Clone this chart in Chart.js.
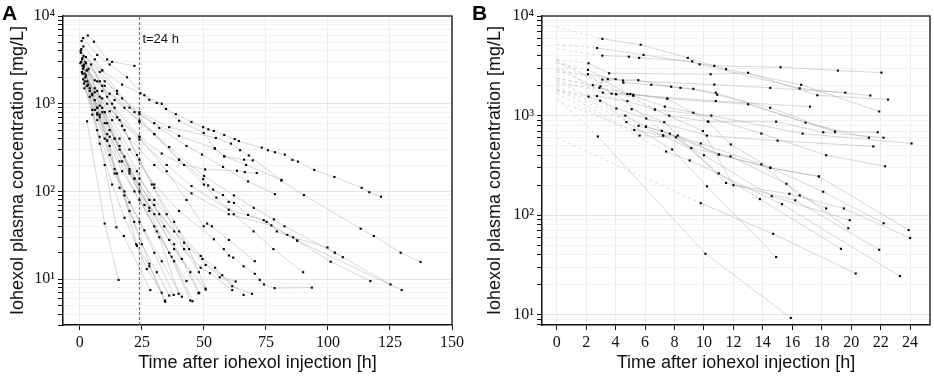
<!DOCTYPE html>
<html>
<head>
<meta charset="utf-8">
<script src="https://cdn.jsdelivr.net/npm/chart.js@4.4.0/dist/chart.umd.min.js"></script>
<style>
  body { margin:0; background:#fff; width:934px; height:376px; position:relative; overflow:hidden; }
  .panel { position:absolute; top:0; width:467px; height:376px; }
  .lab { position:absolute; top:1px; font:bold 21px "Liberation Sans", Arial, sans-serif; color:#000; }
</style>
</head>
<body>
<div class="panel" style="left:0"><canvas id="chartA" width="467" height="376"></canvas></div>
<div class="panel" style="left:467px"><canvas id="chartB" width="467" height="376"></canvas></div>
<div class="lab" style="left:2px">A</div>
<div class="lab" style="left:472px">B</div>
<script>
// panel A: [time h, concentration mg/L] per patient
const A01 = [[1.5,3500],[9,2400],[17,1650],[24.4,1310],[28,1110],[31,1020],[34.7,870],[38.7,760],[45,620],[49.7,540],[51.8,510],[54,490],[58.2,440],[62.4,395],[64.1,375],[73.3,316],[75.8,295],[78.6,280],[82.6,263],[85.7,229],[87.9,219],[94.5,176],[102.6,146],[113.6,110],[116.7,98],[121.4,87]];
const A02 = [[2.5,2900],[10,1800],[17,1150],[24,800],[36,540],[54.8,407],[60.9,351],[64.6,295],[68.1,257],[81.2,133],[90.3,91],[113.2,37.6],[118.5,31],[129.3,20],[137.3,15.7]];
const A03 = [[0.7,5200],[3.2,6000],[5.7,5100],[11,3200],[13,3000],[22,2700]];
const A04 = [[1.3,5600],[7,3600],[12,2800],[19,2000],[26,1250],[33,1000],[40,640],[49.9,465],[54.4,309],[58.2,251],[67,200],[81.3,135]];
const A05 = [[0.3,4000],[8,2300],[15,1300],[24,760],[32,530],[43,330],[49.2,263],[57.7,190],[67.8,130],[78.6,93]];
const A06 = [[0.9,3200],[10,1600],[18,900],[24,620],[30,450],[40,230],[49.7,138],[51.7,117],[53.7,105],[57.7,91],[60,76],[62.1,74],[67.8,54],[75.3,45],[79.4,35],[86,30],[99.8,23],[102.8,20],[106,17.8]];
const A07 = [[1.7,2800],[9,1400],[14,900],[24,420],[35,170],[43,80],[49.9,40],[51.3,43],[53.2,40],[60.1,28],[70.5,16]];
const A08 = [[2.7,2400],[8,1200],[13,650],[20,300],[30,120],[40,60],[54,28.5],[58,22],[60.1,18.6],[61.8,17.6],[66,14],[70.5,11.5],[72.5,9.8],[74.2,8.7],[78.5,7.9],[93.5,8.0]];
const A09 = [[2.2,2000],[11,1000],[16,650],[24,390],[35,200],[45,115],[60,62],[74.1,47],[83.6,32],[87.6,27.5],[101.1,15.8],[117.1,9.5]];
const A10 = [[1.5,2600],[7,1800],[14,1100],[24,640],[36,320],[50,150],[62.1,90],[70.1,65],[78.2,48],[82.5,40],[102.8,20],[125.2,8.7]];
const A11 = [[3,1800],[12,820],[20,400],[30,200],[45,95],[60,55],[77.2,41],[87.6,27.5],[129.7,7.5]];
const A12 = [[1,2200],[6,1100],[11,600],[18,250],[24,140],[30,80],[40,35],[48.7,18.4],[54.5,13.5],[61.4,8.3],[69.4,6.8]];
const A13 = [[2,1800],[7,900],[12,500],[20,180],[28,80],[38,35],[49.4,17],[56.4,10.5],[62.8,9.4]];
const A14 = [[0.5,3000],[9,800],[16,300],[24,120],[32,55],[42,26],[50.7,14.5],[57.4,11.1],[66,6.6]];
const A15 = [[1.2,2500],[5,1300],[10,600],[17,220],[24,100],[34,40],[48.7,13.5],[52.4,11.7],[61.4,7.5]];
const A16 = [[2.5,2100],[8,950],[14,400],[22,140],[30,55],[38,22],[44.5,12],[48.1,7]];
const A17 = [[1.8,1500],[6,850],[12,420],[20,160],[28,65],[36,28],[41.1,17],[50.7,7.6]];
const A18 = [[2.9,630],[10,43],[15.6,9.8]];
const A19 = [[0.4,3800],[3,1600],[7,500],[10,200],[14.7,39],[17.7,31],[28.4,7.5]];
const A20 = [[1,3300],[4,1500],[7,750],[10,400],[14,180],[18,90],[22.7,25],[28,14],[34.3,5.7]];
const A21 = [[1.5,2700],[5,1250],[8,700],[12,330],[16,110],[21.9,45],[28,15],[34.4,5.5]];
const A22 = [[0.8,2300],[4,1200],[7,650],[12,260],[18,100],[24,45],[30,20],[37.8,6.6]];
const A23 = [[2.2,3000],[6,1500],[9,900],[14,400],[20,170],[26,70],[32,30],[39.8,6.8]];
const A24 = [[1.3,1900],[5,850],[8,420],[14,160],[20,75],[26,36],[33,16],[41.1,6.3]];
const A25 = [[3.5,2500],[7,1400],[10,800],[16,330],[22,140],[28,60],[36,20],[44.5,5.7]];
const A26 = [[2.8,1600],[7,780],[11,380],[17,170],[24,80],[31,35],[38,16],[45.4,5.6]];
const A27 = [[1.9,2200],[6,1350],[10,800],[16,400],[23,170],[30,70],[38,25],[47.8,6.9]];
const A28 = [[4.5,2800],[9,1600],[13,1000],[18,500],[24,230],[30,110],[38,45],[44,22],[50.7,7.8]];
const A29 = [[1.1,2700],[6,1850],[12,1300],[20,900],[30,600],[40,430],[54.4,309],[58.2,251],[66.2,230],[69.7,226]];
const A30 = [[3.3,1650],[9,1150],[15,700],[24,420],[33,270],[42,200],[50.5,178],[63.3,172],[66.5,166],[71.3,162]];
const A31 = [[0.6,4200],[3,2400],[7,900],[11,380],[15,160],[20,60],[25,25],[31,12],[36,6.5]];
const A32 = [[1.6,1700],[5,750],[8,350],[13,120],[18,50],[23,24],[27,13],[33,7]];
const A33 = [[2.4,3400],[8,1800],[11,1200],[17,560],[23,260],[29,120],[35,55],[42,22],[48,12]];
const A34 = [[0.2,2900],[4,1400],[8,750],[11,450],[16,220],[22,100],[30,40],[37,18],[43,9.5]];
const A35 = [[1.4,4500],[6,3200],[9,2400],[15,1400],[22,800],[30,450],[40,230],[50,120],[55,85],[62,55],[70,35],[78,22],[90,12]];

// panel B: first 24 h only
const B01 = [[3.1,5900],[5.7,5150],[8.9,3800],[11.5,2920],[16.6,2040],[21.9,1100]];
const B02 = [[2.75,4770],[5.9,4070],[10.7,3160],[15.2,3060],[19.1,2830],[22.05,2700]];
const B03 = [[3.1,4000],[4.9,3900],[5.6,3800],[9.2,3510],[9.7,3270],[16.5,1880],[21.3,1590]];
const B04 = [[2.16,3350],[3.56,2660],[10.45,2600],[13,2690],[17.7,1600],[22.5,1450]];
const B05 = [[2.12,2880],[3.47,2320],[5.54,2270],[7.77,1950],[9.28,1860],[10.9,1620],[14.5,1200],[18.9,690],[21.8,680]];
const B06 = [[2.45,2020],[4,2320],[4.53,2140],[6.42,2040],[8.4,1900],[10.8,1700],[16.9,850],[21.2,600]];
const B07 = [[2.97,1970],[3.72,1660],[5,1650],[7.52,1480],[10.3,870],[14.9,870],[18.1,680],[22.2,600]];
const B08 = [[3.13,1700],[4.03,1640],[5.2,1580],[7.34,1230],[9.28,1070],[13.9,660],[18.3,400],[22.3,310]];
const B09 = [[2.73,1570],[4.8,1400],[6.67,1150],[10.5,1000],[16.7,660],[24.1,525]];
const B10 = [[2.16,1550],[2.95,1410],[4.05,1180],[6.08,935],[10.2,630],[15,560],[21.5,490]];
const B11 = [[4.66,1000],[6.06,775],[7.68,660],[9.14,473],[11.8,389],[15.6,207],[19.8,74]];
const B12 = [[5.27,717],[7.23,630],[8.22,630],[11.03,407],[14.5,299],[18.1,172],[22.2,83]];
const B13 = [[4.73,860],[7.84,457],[10.2,195],[14.9,38]];
const B14 = [[9.78,132],[14.7,65],[20.3,26]];
const B15 = [[2.79,617],[10.1,41],[15.9,9.3]];
const B16 = [[7.64,1000],[10.27,870],[11.82,513],[14.5,299],[17.8,245],[23.9,71]];
const B17 = [[6.67,1150],[9.93,700],[12,200],[15.8,164],[19.5,117],[24,59]];
const B18 = [[5.09,1160],[7.3,860],[11.5,211],[16.2,141],[21.9,45]];
const B19 = [[5.63,630],[8.09,605],[11,263],[13.8,145],[19.3,46]];
const B20 = [[7.43,436],[9.03,355],[15.3,129],[23.3,24.5]];
const B21 = [[5.56,790],[7.23,630],[10,400],[14.6,155],[19.9,89]];
const B22 = [[6.06,775],[9.78,525],[13.9,324],[16.5,158],[18.3,117]];
const B23 = [[4.03,1640],[7.14,703],[11,407],[14.5,299],[17.8,245]];
const B24 = [[2.12,2600],[4.5,2250],[10.7,2050],[14.5,1900],[19.6,1700]];
const B25 = [[2.9,1900],[5.2,1620],[10.8,1400],[17.2,1230]];
const B26 = [[3.1,2300],[4.8,1650],[7.5,1480],[13,1300],[18.9,690]];

const patientsA = [A01,A02,A03,A04,A05,A06,A07,A08,A09,A10,A11,A12,A13,A14,A15,A16,A17,A18,A19,A20,A21,A22,A23,A24,A25,A26,A27,A28,A29,A30,A31,A32,A33,A34,A35];
const patientsB = [B01,B02,B03,B04,B05,B06,B07,B08,B09,B10,B11,B12,B13,B14,B15,B16,B17,B18,B19,B20,B21,B22,B23,B24,B25,B26];

const xTicksA = [0, 25, 50, 75, 100, 125, 150];
const xTicksB = [0, 2, 4, 6, 8, 10, 12, 14, 16, 18, 20, 22, 24];
const cutoff = 24;

const titleFont = "'Liberation Sans', Arial, sans-serif";
const tickFont = "'Liberation Serif', 'DejaVu Serif', serif";
const sup = ['⁰', '¹', '²', '³', '⁴'];

function logTicks(min, max) {
  const out = [];
  for (let e = 0; e <= 4; e++) {
    for (let m = 1; m <= 9; m++) {
      const v = m * Math.pow(10, e);
      if (v >= min - 1e-9 && v <= max + 1e-9) out.push(v);
    }
  }
  return out;
}
function isDecade(v) {
  const l = Math.log10(v);
  return Math.abs(l - Math.round(l)) < 1e-9;
}
function toXY(p) { return p.map(d => ({x: d[0], y: d[1]})); }

function lineSet(p, dashed) {
  return {
    data: toXY(p), showLine: true, pointRadius: 0, order: dashed ? 3 : 2,
    borderColor: dashed ? 'rgba(170,170,170,0.5)' : 'rgba(155,155,155,0.5)',
    borderWidth: 0.8, borderDash: dashed ? [3, 3] : []
  };
}
function pointSet(p) {
  return {
    data: toXY(p), showLine: false, order: 0,
    pointStyle: 'rect', pointRadius: 1.5, pointBorderWidth: 0,
    pointBackgroundColor: '#000', pointBorderColor: '#000'
  };
}
// back-extrapolation to t=0 (log-linear between first and last sample)
function backExtrap(p) {
  const a = p[0], b = p[p.length - 1];
  const k = (Math.log(b[1]) - Math.log(a[1])) / (b[0] - a[0]);
  return [[0, a[1] * Math.exp(-k * a[0])], a];
}

const frame = {
  id: 'frame',
  afterDatasetsDraw(chart) {
    const {ctx, chartArea: a} = chart;
    ctx.save();
    ctx.strokeStyle = '#3a3a3a';
    ctx.lineWidth = 1.6;
    ctx.beginPath();
    ctx.moveTo(a.left, a.top);
    ctx.lineTo(a.right, a.top);
    ctx.lineTo(a.right, a.bottom);
    ctx.stroke();
    ctx.restore();
  }
};

const cutLabel = {
  id: 'cutLabel',
  afterDatasetsDraw(chart) {
    const {ctx, chartArea: a} = chart;
    const x = chart.scales.x.getPixelForValue(cutoff);
    ctx.save();
    ctx.fillStyle = '#111';
    ctx.font = "13px " + titleFont;
    ctx.textBaseline = 'middle';
    ctx.fillText('t=24 h', x + 3, a.top + 23);
    ctx.restore();
  }
};

function makeScales(o) {
  const yTicks = logTicks(o.yMin, o.yMax);
  return {
    x: {
      type: 'linear', min: o.xMin, max: o.xMax,
      afterBuildTicks: s => { s.ticks = o.xTicks.map(v => ({value: v})); },
      afterFit: s => { s.height = 51; },
      ticks: { autoSkip: false, maxRotation: 0, padding: 3, color: '#111',
               font: {family: tickFont, size: 16}, callback: v => String(v) },
      grid: { color: '#ececec', lineWidth: 1, tickLength: 5, tickColor: '#111' },
      border: { color: '#111', width: 1.5 },
      title: { display: true, text: 'Time after iohexol injection [h]', color: '#111',
               font: {family: titleFont, size: 18}, padding: {top: 0, bottom: 2} }
    },
    y: {
      type: 'logarithmic', min: o.yMin, max: o.yMax,
      afterBuildTicks: s => { s.ticks = yTicks.map(v => ({value: v})); },
      afterFit: s => { s.width = o.yWidth; },
      ticks: { autoSkip: false, padding: 3, color: '#111',
               font: {family: tickFont, size: 16},
               callback: v => isDecade(v) ? '10' + sup[Math.round(Math.log10(v))] : '' },
      grid: { color: c => (c.tick && isDecade(c.tick.value)) ? '#e4e4e4' : '#f2f2f2',
              lineWidth: 1, tickLength: 5, tickColor: '#111' },
      border: { color: '#111', width: 1.5 },
      title: { display: true, text: 'Iohexol plasma concentration [mg/L]', color: '#111',
               font: {family: titleFont, size: 18}, padding: {top: o.titlePad, bottom: 0} }
    }
  };
}

const common = {
  responsive: false, animation: false, devicePixelRatio: 1,
  plugins: { legend: {display: false}, tooltip: {enabled: false} }
};

// panel A
const dsA = [];
patientsA.forEach(p => { dsA.push(lineSet(p, false)); dsA.push(pointSet(p)); });
dsA.push({ data: [{x: cutoff, y: 3}, {x: cutoff, y: 10000}], showLine: true, pointRadius: 0,
           borderColor: '#666', borderWidth: 1, borderDash: [3, 2], order: 1 });

new Chart(document.getElementById('chartA'), {
  type: 'scatter',
  data: { datasets: dsA },
  options: Object.assign({}, common, {
    layout: { padding: {left: 0, right: 14, top: 16, bottom: 0} },
    scales: makeScales({xMin: -6.8, xMax: 150, xTicks: xTicksA, yMin: 3, yMax: 10000, yWidth: 63, titlePad: 7})
  }),
  plugins: [frame, cutLabel]
});

// panel B
const dsB = [];
patientsB.forEach(p => {
  dsB.push(lineSet(backExtrap(p), true));
  dsB.push(lineSet(p, false));
  dsB.push(pointSet(p));
});

new Chart(document.getElementById('chartB'), {
  type: 'scatter',
  data: { datasets: dsB },
  options: Object.assign({}, common, {
    layout: { padding: {left: 0, right: 2, top: 16, bottom: 0} },
    scales: makeScales({xMin: -1.0, xMax: 25.35, xTicks: xTicksB, yMin: 7.9, yMax: 10000, yWidth: 75, titlePad: 17})
  }),
  plugins: [frame]
});
</script>
</body>
</html>
